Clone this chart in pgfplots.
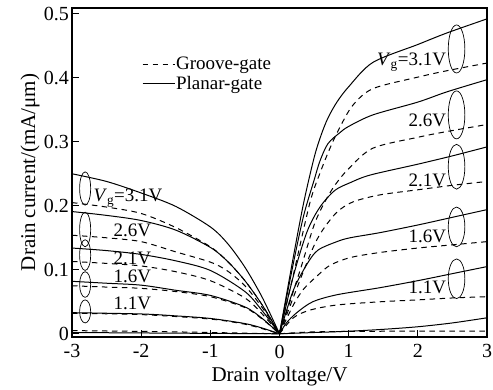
\documentclass[border=0pt]{standalone}
\usepackage{pgfplots}
\pgfplotsset{compat=1.18}
\usetikzlibrary{calc}
\usepackage{fontspec}
\setmainfont{Liberation Serif}
\begin{document}
\begin{tikzpicture}
\begin{axis}[
  scale only axis,
  width=415pt, height=329pt,
  xmin=-3, xmax=3, ymin=-0.005, ymax=0.509,
  xtick={-3,-2,-1,0,1,2,3},
  ytick={0,0.1,0.2,0.3,0.4,0.5},
  yticklabels={0,0.1,0.2,0.3,0.4,0.5},
  xticklabels={-3,-2,-1,0,1,2,3},
  tick pos=left, tick align=inside,
  major tick length=7pt,
  axis line style={line width=1.6pt},
  every tick/.style={line width=1.2pt, black},
  tick label style={font=\fontsize{20}{22}\selectfont},
  xticklabel style={inner sep=0pt, yshift=-7.5pt},
  yticklabel style={inner sep=0pt, text depth=0pt, xshift=-3pt},
  label style={font=\fontsize{21}{23}\selectfont},
  xlabel={Drain voltage/V},
  ylabel={Drain current/(mA/μm)},
  xlabel style={inner sep=0pt, yshift=-9pt},
  ylabel style={inner sep=0pt, yshift=4pt},
  legend style={at={(axis cs:-1.99,0.434)}, anchor=north west, draw=none, fill=none,
    inner sep=0pt, font=\fontsize{19}{21}\selectfont, row sep=3pt,
    nodes={inner sep=1pt}},
  legend image code/.code={\draw[#1] (0pt,0pt) -- (32pt,0pt);},
  legend cell align=left,
  every axis plot/.append style={line width=1pt, black, smooth, tension=0.5},
]
\addlegendimage{dash pattern=on 5.5pt off 4.5pt, line width=1pt, black}
\addlegendentry{Groove-gate}
\addlegendimage{solid, line width=1pt, black}
\addlegendentry{Planar-gate}

% ---------- Planar-gate (solid), right side ----------
\addplot[forget plot] coordinates {(0,0)(0.2,0.12)(0.35,0.205)(0.5,0.275)(0.6,0.31)(0.7,0.337)(0.83,0.362)(1.0,0.386)(1.35,0.424)(2.0,0.452)(2.42,0.47)(3,0.492)};
\addplot[forget plot] coordinates {(0,0)(0.2,0.11)(0.35,0.185)(0.5,0.24)(0.585,0.27)(0.7,0.297)(0.87,0.314)(1.0,0.324)(1.35,0.342)(2.0,0.362)(2.42,0.378)(3,0.397)};
\addplot[forget plot] coordinates {(0,0)(0.2,0.09)(0.4,0.16)(0.585,0.198)(0.8,0.224)(1.02,0.236)(1.31,0.248)(2.0,0.265)(2.5,0.278)(3,0.292)};
\addplot[forget plot] coordinates {(0,0)(0.2,0.068)(0.41,0.111)(0.56,0.131)(0.83,0.144)(1.02,0.15)(1.45,0.158)(2.0,0.17)(2.5,0.182)(3,0.194)};
\addplot[forget plot] coordinates {(0,0)(0.1,0.017)(0.25,0.033)(0.48,0.05)(0.83,0.061)(1.45,0.072)(2.0,0.083)(2.5,0.094)(3,0.105)};
\addplot[forget plot] coordinates {(0,0)(0.5,0.002)(1.0,0.004)(1.5,0.007)(2.0,0.011)(2.5,0.017)(3,0.025)};

% ---------- Groove-gate (dashed), right side ----------
\addplot[forget plot, dash pattern=on 5.5pt off 4.5pt] coordinates {(0,0)(0.2,0.092)(0.44,0.205)(0.585,0.251)(0.73,0.29)(0.87,0.322)(1.06,0.357)(1.35,0.383)(2.0,0.401)(2.42,0.411)(3,0.423)};
\addplot[forget plot, dash pattern=on 5.5pt off 4.5pt] coordinates {(0,0)(0.3,0.1)(0.5,0.17)(0.65,0.205)(0.8,0.232)(1.0,0.258)(1.35,0.29)(2.0,0.307)(2.42,0.316)(3,0.327)};
\addplot[forget plot, dash pattern=on 5.5pt off 4.5pt] coordinates {(0,0)(0.3,0.085)(0.5,0.138)(0.63,0.163)(0.83,0.19)(1.06,0.206)(1.45,0.217)(2.0,0.225)(2.5,0.232)(3,0.238)};
\addplot[forget plot, dash pattern=on 5.5pt off 4.5pt] coordinates {(0,0)(0.2,0.045)(0.35,0.07)(0.54,0.09)(0.73,0.107)(1.02,0.119)(1.45,0.127)(2.0,0.134)(2.5,0.139)(3,0.144)};
\addplot[forget plot, dash pattern=on 5.5pt off 4.5pt] coordinates {(0,0)(0.2,0.025)(0.44,0.037)(0.83,0.045)(1.45,0.05)(2.0,0.053)(2.5,0.056)(3,0.058)};
\addplot[forget plot, dash pattern=on 5.5pt off 4.5pt] coordinates {(0,0)(0.5,0.003)(1.5,0.004)(3,0.004)};

% ---------- Planar-gate (solid), left side ----------
\addplot[forget plot] coordinates {(-3,0.250)(-2.5,0.238)(-2,0.220)(-1.5,0.199)(-1,0.167)(-0.75,0.141)(-0.5,0.104)(-0.25,0.057)(0,0)};
\addplot[forget plot] coordinates {(-3,0.191)(-2.5,0.185)(-2,0.177)(-1.5,0.162)(-1,0.135)(-0.75,0.113)(-0.5,0.083)(-0.25,0.045)(0,0)};
\addplot[forget plot] coordinates {(-3,0.134)(-2.5,0.130)(-2,0.124)(-1.5,0.114)(-1,0.099)(-0.5,0.066)(-0.25,0.036)(0,0)};
\addplot[forget plot] coordinates {(-3,0.082)(-2.5,0.079)(-2,0.076)(-1.5,0.068)(-1,0.060)(-0.5,0.042)(-0.25,0.024)(0,0)};
\addplot[forget plot] coordinates {(-3,0.033)(-2,0.031)(-1.5,0.028)(-1,0.024)(-0.5,0.016)(-0.25,0.009)(0,0)};
\addplot[forget plot] coordinates {(-3,0.002)(-1.5,0.001)(0,0)};

% ---------- Groove-gate (dashed), left side ----------
\addplot[forget plot, dash pattern=on 5.5pt off 4.5pt] coordinates {(-3,0.205)(-2.5,0.198)(-2,0.188)(-1.5,0.166)(-1,0.136)(-0.75,0.113)(-0.5,0.083)(-0.25,0.045)(0,0)};
\addplot[forget plot, dash pattern=on 5.5pt off 4.5pt] coordinates {(-3,0.154)(-2.5,0.150)(-2,0.144)(-1.5,0.128)(-1,0.112)(-0.75,0.098)(-0.5,0.075)(-0.25,0.041)(0,0)};
\addplot[forget plot, dash pattern=on 5.5pt off 4.5pt] coordinates {(-3,0.113)(-2.5,0.110)(-2,0.106)(-1.5,0.097)(-1,0.083)(-0.5,0.056)(-0.25,0.031)(0,0)};
\addplot[forget plot, dash pattern=on 5.5pt off 4.5pt] coordinates {(-3,0.075)(-2.5,0.073)(-2,0.071)(-1.5,0.066)(-1,0.058)(-0.5,0.041)(-0.25,0.023)(0,0)};
\addplot[forget plot, dash pattern=on 5.5pt off 4.5pt] coordinates {(-3,0.032)(-2,0.030)(-1,0.023)(-0.5,0.015)(-0.25,0.008)(0,0)};
\addplot[forget plot, dash pattern=on 5.5pt off 4.5pt] coordinates {(-3,0.005)(-1.5,0.003)(0,0)};

% ---------- ellipses ----------
\draw[line width=0.7pt] (axis cs:2.56,0.445) ellipse [x radius=0.12, y radius=0.0375];
\draw[line width=0.7pt] (axis cs:2.56,0.342) ellipse [x radius=0.12, y radius=0.0375];
\draw[line width=0.7pt] (axis cs:2.56,0.261) ellipse [x radius=0.12, y radius=0.035];
\draw[line width=0.7pt] (axis cs:2.56,0.167) ellipse [x radius=0.12, y radius=0.031];
\draw[line width=0.7pt] (axis cs:2.56,0.086) ellipse [x radius=0.12, y radius=0.031];
\draw[line width=0.7pt] (axis cs:-2.81,0.227) ellipse [x radius=0.08, y radius=0.026];
\draw[line width=0.7pt] (axis cs:-2.81,0.163) ellipse [x radius=0.08, y radius=0.027];
\draw[line width=0.7pt] (axis cs:-2.81,0.123) ellipse [x radius=0.08, y radius=0.024];
\draw[line width=0.7pt] (axis cs:-2.81,0.077) ellipse [x radius=0.08, y radius=0.02];
\draw[line width=0.7pt] (axis cs:-2.81,0.035) ellipse [x radius=0.08, y radius=0.018];

% ---------- labels ----------
\tikzset{lbl/.style={font=\fontsize{19}{20}\selectfont, inner sep=0pt}}
\node[lbl, anchor=east] at (axis cs:2.41,0.424) {\textit{V}\textsubscript{g}=3.1V};
\node[lbl, anchor=east] at (axis cs:2.41,0.334) {2.6V};
\node[lbl, anchor=east] at (axis cs:2.41,0.240) {2.1V};
\node[lbl, anchor=east] at (axis cs:2.41,0.152) {1.6V};
\node[lbl, anchor=east] at (axis cs:2.41,0.072) {1.1V};
\node[lbl, anchor=west] at (axis cs:-2.69,0.212) {\textit{V}\textsubscript{g}=3.1V};
\node[lbl, anchor=west] at (axis cs:-2.40,0.162) {2.6V};
\node[lbl, anchor=west] at (axis cs:-2.40,0.118) {2.1V};
\node[lbl, anchor=west] at (axis cs:-2.40,0.090) {1.6V};
\node[lbl, anchor=west] at (axis cs:-2.40,0.048) {1.1V};
\end{axis}
\path ($(current axis.south west)+(-72pt,-52pt)$) rectangle ($(current axis.north east)+(6pt,8pt)$);
\end{tikzpicture}
\end{document}
